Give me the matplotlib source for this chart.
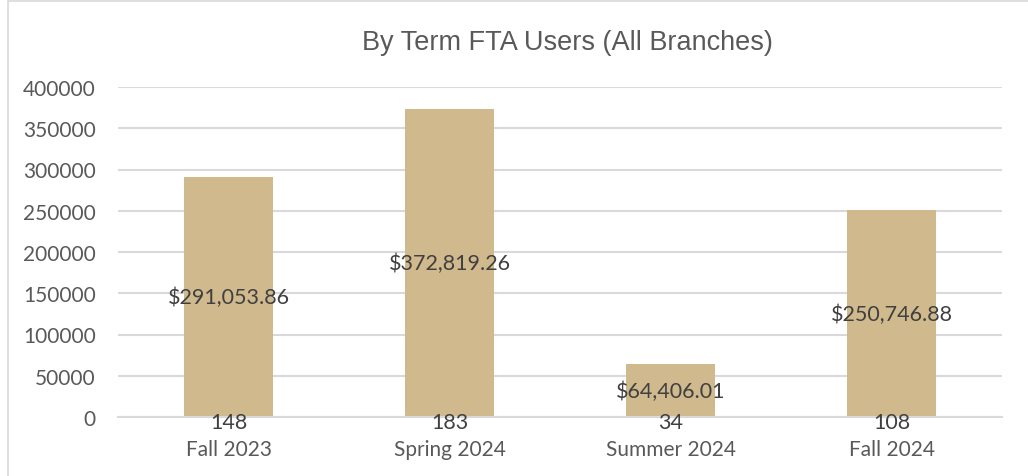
import matplotlib
matplotlib.use("Agg")
import matplotlib.pyplot as plt
from matplotlib.patches import Rectangle
from matplotlib.transforms import offset_copy

terms = ["Fall 2023", "Spring 2024", "Summer 2024", "Fall 2024"]
amounts = [291053.86, 372819.26, 64406.01, 250746.88]
users = [148, 183, 34, 108]
yticks = [0, 50000, 100000, 150000, 200000, 250000, 300000, 350000, 400000]

plt.rcParams['font.family'] = ['Lato', 'DejaVu Sans']

W, H = 1028, 477
fig = plt.figure(figsize=(W / 100, H / 100), dpi=100)
ax = fig.add_axes([118 / W, 1 - 418 / H, (1002 - 118) / W, (418 - 88) / H])

x = list(range(len(terms)))
ax.bar(x, amounts, width=0.4, color="#CFB98D", zorder=2)
ax.bar(x, users, width=0.4, color="#CFB98D", zorder=2)

low = offset_copy(ax.transData, fig=fig, x=0, y=-5, units="dots")
for xi, a, u in zip(x, amounts, users):
    ax.text(xi, a / 2, "${:,.2f}".format(a), ha="center", va="center",
            fontsize=15.5, color="#404040", zorder=3)
    ax.text(xi, 0, "{}".format(u), ha="center", va="center", transform=low,
            fontsize=15.5, color="#404040", zorder=3)

ax.set_xlim(-0.5, 3.5)
ax.set_ylim(0, 400000)
ax.set_yticks(yticks)
ax.set_yticklabels([str(v) for v in yticks])
ax.set_xticks(x)
ax.set_xticklabels(terms)
ax.tick_params(axis="both", length=0, labelsize=15, labelcolor="#595959")
ax.tick_params(axis="y", pad=16)
ax.tick_params(axis="x", pad=16)
ax.grid(axis="y", color="#D9D9D9", linewidth=1.5, zorder=0)
ax.set_axisbelow(True)
for s in ["top", "right", "left"]:
    ax.spines[s].set_visible(False)
ax.spines["bottom"].set_color("#D9D9D9")
ax.spines["bottom"].set_linewidth(1.5)

fig.text(567 / W, 1 - 43 / H, "By Term FTA Users (All Branches)", ha="center", va="center",
         fontsize=19.5, color="#595959", family=["Liberation Sans", "DejaVu Sans"])

fig.patches.append(Rectangle((8 / W, -0.1), 1.2, 1 - 2 / H + 0.1, transform=fig.transFigure,
                             fill=False, edgecolor="#D9D9D9", linewidth=1.2))

fig.savefig("out.png", dpi=100)
